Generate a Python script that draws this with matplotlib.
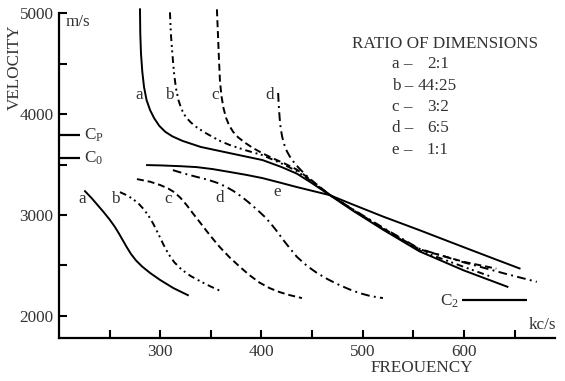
import matplotlib
matplotlib.use("Agg")
import matplotlib.pyplot as plt
from matplotlib.ticker import FixedLocator

plt.rcParams['font.family'] = ['Liberation Serif', 'DejaVu Serif']
plt.rcParams['mathtext.fontset'] = 'custom'
plt.rcParams['mathtext.rm'] = 'Liberation Serif'
plt.rcParams['mathtext.it'] = 'Liberation Serif:italic'

# ---------------- data (frequency kc/s, velocity m/s) ----------------
a_up_f = [280, 280.3, 281, 282.3, 284, 286.5, 290, 294, 299, 305, 312, 322, 340, 368, 401, 420, 435, 450, 467.5, 490, 520, 556, 600, 643]
a_up_v = [5040, 4800, 4600, 4420, 4270, 4140, 4040, 3960, 3885, 3825, 3780, 3735, 3675, 3615, 3545, 3475, 3410, 3315, 3197, 3045, 2855, 2640, 2450, 2288]

b_up_f = [309.6, 310.5, 312, 313.5, 315.5, 318, 321, 325, 330, 336, 344, 352, 360, 369, 385, 401, 420, 435, 450, 467.5, 490, 520, 556, 600, 625]
b_up_v = [5010, 4800, 4600, 4420, 4260, 4140, 4050, 3975, 3920, 3870, 3818, 3773, 3730, 3693, 3640, 3594, 3510, 3435, 3330, 3200, 3052, 2862, 2648, 2485, 2395]

c_up_f = [356, 357, 358, 359, 360.5, 362.5, 365, 368, 372, 377, 384, 391.5, 401, 411, 423, 435, 450, 467.5, 490, 520, 556, 600, 632]
c_up_v = [5040, 4800, 4550, 4330, 4180, 4060, 3965, 3890, 3825, 3770, 3715, 3665, 3612, 3563, 3510, 3450, 3340, 3200, 3055, 2868, 2660, 2535, 2468]

d_up_f = [416.5, 417, 418, 419, 420.5, 422.5, 425, 428, 433, 438, 445, 455, 467.5, 490, 520, 556, 600, 640, 672]
d_up_v = [4210, 4100, 3960, 3860, 3775, 3700, 3635, 3580, 3510, 3455, 3385, 3292, 3200, 3058, 2875, 2665, 2530, 2420, 2337]

e_f = [287, 300, 320, 336, 352, 369, 385, 401, 418, 435, 450, 467.5, 490, 520, 556, 600, 630, 655]
e_v = [3495, 3492, 3484, 3475, 3455, 3426, 3398, 3366, 3322, 3277, 3240, 3197, 3105, 2985, 2850, 2680, 2565, 2470]

a_lo_f = [225.7, 232, 238, 244, 250, 255, 259, 263, 267, 271, 276, 282, 290, 300, 313, 327.3]
a_lo_v = [3236, 3170, 3100, 3030, 2955, 2885, 2820, 2750, 2680, 2615, 2550, 2490, 2425, 2355, 2275, 2205]

b_lo_f = [260.2, 266, 272, 278, 283, 288, 293, 298, 303, 308, 314, 321, 330, 340, 350, 361]
b_lo_v = [3227, 3200, 3165, 3120, 3065, 3000, 2915, 2815, 2710, 2615, 2530, 2460, 2395, 2340, 2290, 2240]

c_lo_f = [277, 290, 300, 308, 314, 320, 326, 332, 339, 349, 359, 369, 379, 388, 398, 408, 418, 428, 440]
c_lo_v = [3356, 3330, 3297, 3262, 3225, 3170, 3100, 3020, 2930, 2800, 2680, 2575, 2483, 2405, 2330, 2275, 2235, 2205, 2176]

d_lo_f = [312.5, 324, 336, 347, 356, 364, 372, 380, 388, 396, 404, 410, 416, 421, 428, 435, 445, 455, 466, 477, 487, 497, 508, 520]
d_lo_v = [3445, 3410, 3378, 3350, 3320, 3285, 3240, 3185, 3120, 3050, 2975, 2905, 2830, 2760, 2670, 2585, 2495, 2424, 2360, 2305, 2262, 2225, 2195, 2176]

cp_v = 3790
c0_v = 3565
c2_v = 2160
c2_f = [598, 662]

x_major = [300, 400, 500, 600]
x_minor = [250, 350, 450, 550, 650]
y_major = [2000, 3000, 4000, 5000]
y_minor = [2500, 3500, 4500]

ratio_letters = ['a', 'b', 'c', 'd', 'e']
ratio_values = ['2:1', '44:25', '3:2', '6:5', '1:1']

# ---------------- figure ----------------
W, H = 565, 381
fig = plt.figure(figsize=(W / 100, H / 100), dpi=100)
xl, xr = 59, 555
yb, yt = 338, 7.3
ax = fig.add_axes([xl / W, 1 - yb / H, (xr - xl) / W, (yb - yt) / H])
ax.set_xlim(200, 690)
ax.set_ylim(1780, 5060)
ax.set_facecolor('none')

lw = 1.4
k = 'black'
solid = '-'
dashed = (0, (3.6, 2.0))
dashdot = (0, (4.5, 2.2, 1.0, 2.2))
dashdotdot = (0, (3.5, 2.0, 1.0, 1.8, 1.0, 2.0))

ax.plot(a_up_f, a_up_v, color=k, lw=lw, ls=solid, clip_on=False)
ax.plot(b_up_f, b_up_v, color=k, lw=lw, ls=dashdotdot, clip_on=False)
ax.plot(c_up_f, c_up_v, color=k, lw=lw, ls=dashed, clip_on=False)
ax.plot(d_up_f, d_up_v, color=k, lw=lw, ls=dashdot, clip_on=False)
ax.plot(e_f, e_v, color=k, lw=lw, ls=solid)
ax.plot(a_lo_f, a_lo_v, color=k, lw=lw, ls=solid)
ax.plot(b_lo_f, b_lo_v, color=k, lw=lw, ls=dashdotdot)
ax.plot(c_lo_f, c_lo_v, color=k, lw=lw, ls=dashed)
ax.plot(d_lo_f, d_lo_v, color=k, lw=lw, ls=dashdot)

# reference velocities
ax.plot([200, 220.7], [cp_v, cp_v], color=k, lw=1.6, solid_capstyle='butt')
ax.plot([200, 220.7], [c0_v, c0_v], color=k, lw=1.6, solid_capstyle='butt')
ax.plot(c2_f, [c2_v, c2_v], color=k, lw=1.6, solid_capstyle='butt')

tc = '#333333'
fs = 12.3
ax.text(224.5, cp_v, r'$\mathrm{C_P}$', fontsize=fs, color=tc, ha='left', va='center')
ax.text(224.5, c0_v, r'$\mathrm{C_0}$', fontsize=fs, color=tc, ha='left', va='center')
ax.text(595, c2_v - 20, r'$\mathrm{C_2}$', fontsize=fs, color=tc, ha='right', va='center')

# curve letters
ax.text(279, 4189, 'a', fontsize=fs, color=tc, ha='center', va='center')
ax.text(308.6, 4189, 'b', fontsize=fs, color=tc, ha='center', va='center')
ax.text(354, 4189, 'c', fontsize=fs, color=tc, ha='center', va='center')
ax.text(408.3, 4189, 'd', fontsize=fs, color=tc, ha='center', va='center')
ax.text(415.2, 3227, 'e', fontsize=fs, color=tc, ha='center', va='center')
ax.text(222.7, 3158, 'a', fontsize=fs, color=tc, ha='center', va='center')
ax.text(255.3, 3158, 'b', fontsize=fs, color=tc, ha='center', va='center')
ax.text(307.6, 3158, 'c', fontsize=fs, color=tc, ha='center', va='center')
ax.text(359, 3168, 'd', fontsize=fs, color=tc, ha='center', va='center')

# units
ax.text(206.5, 4914, 'm/s', fontsize=fs, color=tc, ha='left', va='center')
ax.text(677.8, 1908, 'kc/s', fontsize=fs, color=tc, ha='center', va='center')

# spines / ticks
for s in ['top', 'right']:
    ax.spines[s].set_visible(False)
ax.spines['left'].set_linewidth(1.6)
ax.spines['bottom'].set_linewidth(1.6)
ax.spines['left'].set_bounds(1780, 5000)
ax.xaxis.set_major_locator(FixedLocator(x_major))
ax.xaxis.set_minor_locator(FixedLocator(x_minor))
ax.yaxis.set_major_locator(FixedLocator(y_major))
ax.yaxis.set_minor_locator(FixedLocator(y_minor))
ax.set_xticklabels([str(v) for v in x_major])
ax.set_yticklabels([str(v) for v in y_major])
ax.tick_params(which='both', direction='in', length=5.5, width=1.5, color=k)
ax.tick_params(axis='x', which='major', labelsize=fs, labelcolor=tc, pad=4)
ax.tick_params(axis='y', which='major', labelsize=fs, labelcolor=tc, pad=4)

# axis titles
fig.text(15 / W, 1 - 67 / H, 'VELOCITY', rotation=90, fontsize=fs, color=tc,
         ha='center', va='center')
fig.text(422 / W, 1 - 368 / H, 'FREOUENCY', fontsize=fs, color=tc,
         ha='center', va='center')

# ratio legend
fig.text(445 / W, 1 - 44 / H, 'RATIO OF DIMENSIONS', fontsize=fs, color=tc,
         ha='center', va='center')
row_y = [64, 85.5, 107, 128.5, 150]
val_x = [427, 418, 427, 427, 427]
for letter, val, yy, vx in zip(ratio_letters, ratio_values, row_y, val_x):
    fig.text(392 / W, 1 - yy / H, letter + ' \u2013', fontsize=fs, color=tc,
             ha='left', va='center')
    fig.text(vx / W, 1 - yy / H, val, fontsize=fs, color=tc,
             ha='left', va='center')

fig.savefig('out.png', dpi=100)
